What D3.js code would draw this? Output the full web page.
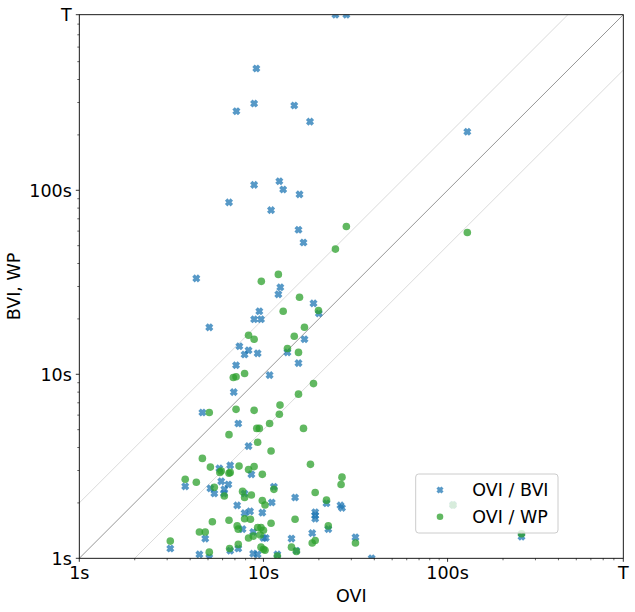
<!DOCTYPE html>
<html>
<head>
<meta charset="utf-8">
<script src="https://cdn.jsdelivr.net/npm/d3@7"></script>
<style>
  body { margin: 0; background: #fff; }
  svg { font-family: "DejaVu Sans", sans-serif; }
</style>
</head>
<body>
<svg width="635" height="612"></svg>
<script>
// timeout value, drawn as "T"
var TIMEOUT = 900;

var tickValues = [1, 10, 100, TIMEOUT];
var tickLabels = ["1s", "10s", "100s", "T"];

// OVI / BVI (seconds)
var bviX = [24.6, 28.2, 9.15, 7.13, 8.9, 14.7, 17.9, 128, 8.9, 12.2, 12.8, 15.7, 6.5, 11.0, 15.5, 16.5,
  4.32, 12.35, 12.05, 18.7, 20.0, 9.5, 8.9, 9.7, 5.08, 16.7, 7.4, 8.3, 7.9, 9.3, 13.5, 15.5, 7.1, 10.8,
  6.9, 4.66, 7.3, 8.3, 6.6, 5.76, 8.6, 3.76, 5.9, 6.45, 5.15, 5.41, 6.13, 6.1, 7.9, 11.4, 14.85, 11.1,
  22.0, 26.2, 26.7, 7.2, 8.46, 7.9, 9.86, 19.1, 19.1, 19.1, 22.5, 7.7, 18.4, 14.2, 31.6, 4.83, 10.0, 10.3,
  8.8, 3.12, 4.49, 5.08, 6.6, 7.3, 8.8, 9.3, 11.9, 15.1, 38.7, 107, 252];
var bviY = [TIMEOUT, TIMEOUT, 459, 269, 296, 289, 236, 208, 107, 112, 101, 95, 86, 78, 61, 52,
  33.2, 29.7, 27.2, 24.3, 21.4, 22.0, 19.9, 19.9, 18.0, 15.5, 14.2, 13.5, 12.8, 13.0, 13.15, 11.5, 11.2, 9.9,
  8.0, 6.2, 5.4, 4.07, 3.2, 3.08, 2.86, 2.46, 2.62, 2.52, 2.40, 2.25, 2.37, 2.25, 2.25, 2.45, 2.14, 2.01,
  1.99, 1.94, 1.88, 1.94, 1.80, 1.76, 1.77, 1.78, 1.71, 1.64, 1.44, 1.44, 1.37, 1.28, 1.30, 1.28, 1.29, 1.29,
  1.39, 1.13, 1.05, 1.01, 1.10, 1.13, 1.06, 1.05, 1.05, 1.10, 1.0, 1.95, 1.31];

// OVI / WP (seconds)
var wpX = [28.2, 128, 24.6, 12.05, 9.74, 15.7, 19.9, 12.8, 16.7, 8.3, 8.9, 14.7, 13.5, 15.5, 7.9, 6.86,
  7.1, 18.7, 15.5, 12.3, 7.1, 8.9, 5.08, 12.2, 10.8, 9.2, 9.5, 16.5, 6.5, 9.3, 11.0, 4.66, 18.0, 5.15,
  7.37, 8.3, 8.9, 5.9, 5.8, 6.5, 6.6, 9.86, 26.7, 26.4, 3.76, 4.32, 5.41, 11.4, 6.13, 7.7, 7.9, 8.6,
  19.1, 9.86, 10.2, 22.0, 7.9, 8.5, 14.85, 5.28, 6.5, 11.0, 7.2, 7.3, 9.3, 9.7, 10.0, 22.5, 4.49, 4.83,
  8.3, 8.8, 9.6, 19.1, 18.4, 14.2, 15.1, 31.6, 3.12, 5.08, 6.55, 7.3, 9.7, 10.0, 10.2, 11.9, 107, 252];
var wpY = [63.6, 59.0, 47.9, 34.9, 32.0, 26.2, 22.2, 22.0, 18.0, 16.3, 15.5, 16.1, 13.8, 13.15, 10.1, 9.6,
  9.7, 8.9, 7.8, 6.8, 6.45, 6.37, 6.2, 6.06, 5.4, 5.08, 5.08, 5.08, 4.7, 4.27, 3.83, 3.49, 3.24, 3.13,
  3.17, 3.04, 3.15, 2.98, 2.93, 2.90, 2.93, 2.86, 2.76, 2.52, 2.69, 2.59, 2.43, 2.37, 2.18, 2.31, 2.14, 2.21,
  2.28, 2.06, 1.95, 2.07, 1.64, 1.63, 1.63, 1.58, 1.61, 1.55, 1.50, 1.44, 1.47, 1.47, 1.42, 1.50, 1.39, 1.39,
  1.29, 1.32, 1.34, 1.25, 1.21, 1.15, 1.09, 1.21, 1.24, 1.08, 1.13, 1.19, 1.15, 1.12, 1.105, 1.03, 1.95, 1.36];

var seriesNames = ["OVI / BVI", "OVI / WP"];
var colors = ["#1f77b4", "#2ca02c"];

// guide lines: y = x, y = 2x, y = x/2
var guideFactors = [1, 2, 0.5];

var svg = d3.select("svg");
var margin = {left: 79.3, right: 623.3, top: 14.7, bottom: 558.3};

var x = d3.scaleLog().domain([1, TIMEOUT]).range([margin.left, margin.right]);
var y = d3.scaleLog().domain([1, TIMEOUT]).range([margin.bottom, margin.top]);

svg.append("defs").append("clipPath").attr("id", "clip")
  .append("rect")
  .attr("x", margin.left).attr("y", margin.top)
  .attr("width", margin.right - margin.left)
  .attr("height", margin.bottom - margin.top);

var plot = svg.append("g").attr("clip-path", "url(#clip)");

//guide lines
plot.selectAll(".guide")
  .data(guideFactors)
  .enter()
  .append("line")
  .attr("x1", x(1))
  .attr("y1", d => y(d))
  .attr("x2", x(TIMEOUT))
  .attr("y2", d => y(TIMEOUT * d))
  .attr("stroke", "#000")
  .attr("stroke-opacity", d => d == 1 ? 0.6 : 0.15)
  .attr("stroke-width", d => d == 1 ? 0.7 : 1);

// filled X marker (rotated plus)
function xMarker(s) {
  var a = s / 2, w = s / 4.6;
  var pts = [[-w, -a], [w, -a], [w, -w], [a, -w], [a, w], [w, w], [w, a], [-w, a], [-w, w], [-a, w], [-a, -w], [-w, -w]];
  var c = Math.SQRT1_2;
  return "M" + pts.map(p => [(p[0] - p[1]) * c, (p[0] + p[1]) * c].join(",")).join("L") + "Z";
}

var bviData = bviX.map((d, i) => ({x: d, y: bviY[i]}));
var wpData = wpX.map((d, i) => ({x: d, y: wpY[i]}));

plot.selectAll(".bvi")
  .data(bviData)
  .enter()
  .append("path")
  .attr("d", xMarker(8))
  .attr("transform", d => `translate(${x(d.x)},${y(d.y)})`)
  .attr("fill", colors[0])
  .attr("fill-opacity", 0.75);

plot.selectAll(".wp")
  .data(wpData)
  .enter()
  .append("circle")
  .attr("cx", d => x(d.x))
  .attr("cy", d => y(d.y))
  .attr("r", 3.8)
  .attr("fill", colors[1])
  .attr("fill-opacity", 0.75);

//axes
var xAxis = svg.append("g").attr("transform", `translate(0,${margin.bottom})`);
var yAxis = svg.append("g").attr("transform", `translate(${margin.left},0)`);

var minor = [];
[1, 10, 100].forEach(function(p) {
  d3.range(2, 10).forEach(function(k) {
    if (p * k < TIMEOUT) minor.push(p * k);
  });
});

xAxis.selectAll(".minor").data(minor).enter().append("line")
  .attr("x1", d => x(d)).attr("x2", d => x(d))
  .attr("y1", 0).attr("y2", 2).attr("stroke", "#000").attr("stroke-width", 0.6);
xAxis.selectAll(".major").data(tickValues).enter().append("line")
  .attr("x1", d => x(d)).attr("x2", d => x(d))
  .attr("y1", 0).attr("y2", 3.5).attr("stroke", "#000").attr("stroke-width", 0.8);
xAxis.selectAll(".lab").data(tickValues).enter().append("text")
  .attr("x", d => x(d)).attr("y", 21.2)
  .attr("text-anchor", "middle").attr("font-size", 17.5).attr("fill", "#000")
  .text((d, i) => tickLabels[i]);

yAxis.selectAll(".minor").data(minor).enter().append("line")
  .attr("y1", d => y(d)).attr("y2", d => y(d))
  .attr("x1", 0).attr("x2", -2).attr("stroke", "#000").attr("stroke-width", 0.6);
yAxis.selectAll(".major").data(tickValues).enter().append("line")
  .attr("y1", d => y(d)).attr("y2", d => y(d))
  .attr("x1", 0).attr("x2", -3.5).attr("stroke", "#000").attr("stroke-width", 0.8);
yAxis.selectAll(".lab").data(tickValues).enter().append("text")
  .attr("x", -7.5).attr("y", d => y(d) + 6.4)
  .attr("text-anchor", "end").attr("font-size", 17.5).attr("fill", "#000")
  .text((d, i) => tickLabels[i]);

//frame
svg.append("rect")
  .attr("x", margin.left).attr("y", margin.top)
  .attr("width", margin.right - margin.left)
  .attr("height", margin.bottom - margin.top)
  .attr("fill", "none").attr("stroke", "#000").attr("stroke-width", 0.9);

//axis titles
svg.append("text")
  .attr("x", (margin.left + margin.right) / 2).attr("y", 602)
  .attr("text-anchor", "middle").attr("font-size", 17.5)
  .text("OVI");
svg.append("text")
  .attr("transform", `translate(20,${(margin.top + margin.bottom) / 2}) rotate(-90)`)
  .attr("text-anchor", "middle").attr("font-size", 17.5)
  .text("BVI, WP");

//legend
var legend = svg.append("g").attr("transform", "translate(415.7,474)");
legend.append("rect")
  .attr("width", 142.3).attr("height", 59).attr("rx", 3)
  .attr("fill", "#fff").attr("fill-opacity", 0.8)
  .attr("stroke", "#ccc").attr("stroke-width", 1);
var items = legend.selectAll(".item").data(seriesNames).enter().append("g")
  .attr("transform", (d, i) => `translate(0,${16 + i * 26.7})`);
items.filter((d, i) => i == 0).append("path")
  .attr("d", xMarker(7))
  .attr("transform", "translate(24.3,0)")
  .attr("fill", colors[0]).attr("fill-opacity", 0.75);
items.filter((d, i) => i == 1).append("circle")
  .attr("cx", 24.3).attr("cy", 0).attr("r", 3.3)
  .attr("fill", colors[1]).attr("fill-opacity", 0.75);
items.append("text")
  .attr("x", 56.6).attr("y", 6.2)
  .attr("font-size", 17.5)
  .text(d => d);
</script>
</body>
</html>
